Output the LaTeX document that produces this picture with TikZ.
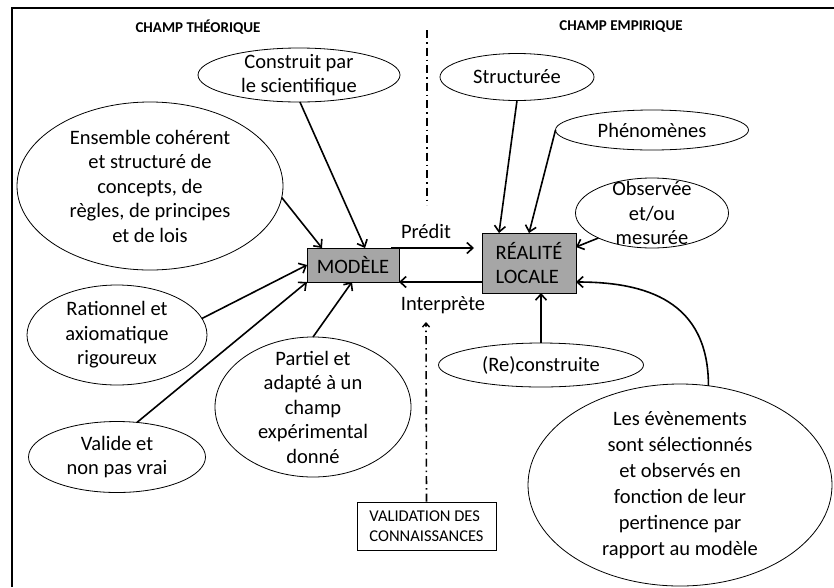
\documentclass[tikz,border=0pt]{standalone}
\usepackage{fontspec}
\setmainfont{Carlito}
\usetikzlibrary{shapes.geometric,arrows.meta}
\begin{document}
\begin{tikzpicture}[x=1pt,y=-1pt,
  bub/.style={ellipse,draw,line width=0.8pt,inner xsep=0pt,inner ysep=-40pt,outer sep=0pt,align=center,font=\fontsize{20.5}{24.5}\selectfont},
  gbox/.style={draw,line width=0.8pt,fill=gray!70!white,inner sep=0pt,outer sep=0pt,font=\fontsize{20.5}{24}\selectfont},
  arr/.style={line width=1.6pt,-{Straight Barb[length=6pt,width=11pt,line width=1.6pt]}},
  lbl/.style={font=\fontsize{20.5}{24.5}\selectfont},
  ttl/.style={font=\fontsize{15}{18}\selectfont\bfseries},
  dd/.style={line width=1.6pt,dash pattern=on 8pt off 4pt on 1.5pt off 4pt}]
\useasboundingbox (0,0) rectangle (834,587);
\draw[line width=2pt] (12,587) -- (12,8) -- (834,8);

\node[ttl] (t1) at (198,27) {CHAMP THÉORIQUE};
\node[ttl] (t2) at (621,27) {CHAMP EMPIRIQUE};

\node[gbox,minimum width=92pt,minimum height=34pt] (mod) at (353,265) {MODÈLE};
\node[gbox,minimum width=94pt,minimum height=60pt,align=left] (rea) at (529,263) {RÉALITÉ\\LOCALE};
\node[draw,line width=0.7pt,font=\fontsize{16.5}{20}\selectfont,align=left,minimum width=139pt,minimum height=48pt,inner sep=0pt] (vd) at (426.5,526) {VALIDATION DES\\CONNAISSANCES};

\node[bub,minimum width=202pt,minimum height=54pt] (con) at (299,75) {Construit par\\le scientifique};
\node[bub,minimum width=266pt,minimum height=168pt] (ens) at (150,186) {Ensemble cohérent\\et structuré de\\concepts, de\\règles, de principes\\et de lois};
\node[bub,minimum width=180pt,minimum height=100pt] (rat) at (117,335) {Rationnel et\\axiomatique\\rigoureux};
\node[bub,minimum width=177pt,minimum height=71pt] (val) at (117,457) {Valide et\\non pas vrai};
\node[bub,minimum width=196pt,minimum height=140pt] (par) at (313,407) {Partiel et\\adapté à un\\champ\\expérimental\\donné};
\node[bub,minimum width=154pt,minimum height=47pt] (str) at (517,77) {Structurée};
\node[bub,minimum width=193pt,minimum height=40pt] (phe) at (652,130) {Phénomènes};
\node[bub,minimum width=153pt,minimum height=70pt] (obs) at (652,213) {Observée\\et/ou\\mesurée};
\node[bub,minimum width=205pt,minimum height=44pt] (rec) at (541,365) {(Re)construite};
\node[bub,minimum width=304pt,minimum height=202pt,font=\fontsize{20.5}{26}\selectfont] (lev) at (680,485) {Les évènements\\sont sélectionnés\\et observés en\\fonction de leur\\pertinence par\\rapport au modèle};

\node[lbl] (pr) at (426,231) {Prédit};
\node[lbl] (in) at (443,305) {Interprète};

\draw[arr,line width=2pt] ([xshift=-8pt]mod.north east) -- ([xshift=-8pt]mod.north east -| rea.west);
\draw[arr,line width=2pt] (mod.south east -| rea.west) -- (mod.south east);

\coordinate (d1) at (427,30);
\coordinate (d2) at (427,205);
\coordinate (d3) at (426,322);
\draw[dd] (d1) -- (d2);
\draw[dd,-{Straight Barb[length=4pt,width=7pt,line width=1.4pt]}] (vd.north) -- (d3);

\draw[arr] (con.-88) -- ([xshift=58pt]mod.north west);
\draw[arr] (ens.-5) -- ([xshift=15pt]mod.north west);
\draw[arr] (rat.11) -- (mod.west);
\draw[arr] (val.60) -- (mod.south west);
\draw[arr] (par.north) -- ([xshift=-1pt]mod.south);
\draw[arr] (str.south) -- ([xshift=17pt]rea.north west);
\draw[arr] (phe.west) -- (rea.north);
\draw[arr] (obs.-155) -- ([yshift=16pt]rea.east);
\draw[arr] (rec.north) -- (rec.north |- rea.south);
\draw[arr] (lev.74) .. controls +(0,-85) and +(70,0) .. ([yshift=-19pt]rea.east);
\end{tikzpicture}
\end{document}
